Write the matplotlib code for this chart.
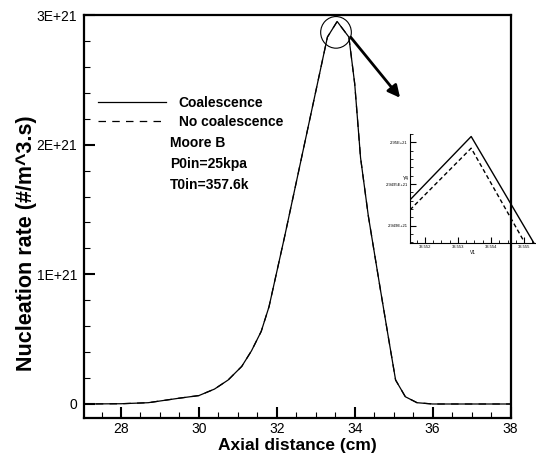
import matplotlib
matplotlib.use('Agg')
import matplotlib.pyplot as plt
from matplotlib.patches import Ellipse
from matplotlib.ticker import MultipleLocator, FuncFormatter

plt.rcParams['font.family'] = ['Liberation Sans', 'DejaVu Sans']

# main curves (x in cm, rate in units of 1E+21)
axial = [27.0, 28.0, 28.7, 29.5, 30.0, 30.4, 30.75, 31.1, 31.35, 31.6, 31.8,
         32.2, 32.6, 33.0, 33.3, 33.55, 33.85, 34.0, 34.15, 34.35, 34.65,
         34.85, 35.05, 35.3, 35.6, 36.0, 37.0, 38.0]
coal = [0.0, 0.002, 0.01, 0.045, 0.065, 0.115, 0.185, 0.29, 0.41, 0.56, 0.75,
        1.29, 1.85, 2.41, 2.83, 2.95, 2.83, 2.47, 1.9, 1.45, 0.9,
        0.54, 0.185, 0.056, 0.01, 0.0, 0.0, 0.0]
nocoal = [0.0, 0.002, 0.01, 0.045, 0.065, 0.115, 0.185, 0.29, 0.41, 0.56, 0.75,
          1.29, 1.85, 2.41, 2.83, 2.9499, 2.83, 2.47, 1.9, 1.45, 0.9,
          0.54, 0.185, 0.056, 0.01, 0.0, 0.0, 0.0]

# zoomed inset near the peak
v1_coal = [33.55155, 33.5534, 33.5553]
y4_coal = [2.94931e21, 2.95007e21, 2.94879e21]
v1_nocoal = [33.55155, 33.5534, 33.5550]
y4_nocoal = [2.94919e21, 2.94993e21, 2.94881e21]
inset_yticks = [2.949e21, 2.9495e21, 2.95e21]
inset_ylabels = ['2.949E+21', '2.9495E+21', '2.95E+21']

fig = plt.figure(figsize=(5.36, 4.59), dpi=100)
ax = fig.add_axes([84 / 536, 1 - 418 / 459, 426.5 / 536, 403 / 459])

ax.plot(axial, [v * 1e21 for v in coal], color='k', lw=0.9, label='Coalescence')
ax.plot(axial, [v * 1e21 for v in nocoal], color='k', lw=0.9, ls=(0, (6, 5)),
        label='No coalescence')

ax.set_xlim(27.05, 38.0)
ax.set_ylim(-0.108e21, 3.0e21)
ax.xaxis.set_major_locator(MultipleLocator(2))
ax.xaxis.set_minor_locator(MultipleLocator(0.5))
ax.yaxis.set_major_locator(MultipleLocator(1e21))
ax.yaxis.set_minor_locator(MultipleLocator(0.2e21))
ax.yaxis.set_major_formatter(FuncFormatter(
    lambda v, p: '0' if abs(v) < 1 else '%dE+21' % round(v / 1e21)))
ax.tick_params(which='both', direction='in', top=False, right=False, labelsize=10)
ax.tick_params(which='major', length=8, width=1.5, pad=5)
ax.tick_params(axis='x', which='major', pad=3)
ax.tick_params(which='minor', length=4.5, width=0.8)
for s in ax.spines.values():
    s.set_linewidth(1.6)

ax.set_xlabel('Axial distance (cm)', fontsize=12.5, fontweight='bold', labelpad=1.5)
ax.set_ylabel('Nucleation rate (#/m^3.s)', fontsize=15.5, fontweight='bold')
ax.yaxis.set_label_coords(-0.11, 0.434)

leg = ax.legend(loc='upper left', bbox_to_anchor=(0.02, 0.812), frameon=False,
                prop={'weight': 'bold', 'size': 10}, handlelength=4.9,
                handletextpad=0.9, labelspacing=0.35, borderaxespad=0)

fig.text(170 / 536, 1 - 136 / 459, 'Moore B\nP0in=25kpa\nT0in=357.6k',
         fontsize=10, fontweight='bold', va='top', linespacing=1.62)

# circle around the peak and arrow to the zoom
ax.add_patch(Ellipse((33.52, 2.866e21), 0.787, 0.244e21, fill=False, lw=0.8, color='k'))
ax.annotate('', xy=(35.21, 2.345e21), xytext=(33.85, 2.846e21),
            arrowprops=dict(arrowstyle='-|>', lw=2, color='k', mutation_scale=18))

# inset
ins = fig.add_axes([410 / 536, 1 - 243 / 459, 126 / 536, 109 / 459])
ins.set_facecolor('none')
ins.plot(v1_coal, y4_coal, color='k', lw=1.0)
ins.plot(v1_nocoal, y4_nocoal, color='k', lw=1.0, ls=(0, (3, 2)))
ins.set_xlim(33.55155, 33.55536)
ins.set_ylim(2.948793e21, 2.9501e21)
ins.spines['top'].set_visible(False)
ins.spines['right'].set_visible(False)
ins.xaxis.set_major_locator(MultipleLocator(0.001))
ins.xaxis.set_minor_locator(MultipleLocator(0.00025))
ins.xaxis.set_major_formatter(FuncFormatter(lambda v, p: '%.3f' % v))
ins.set_yticks(inset_yticks)
ins.set_yticklabels(inset_ylabels)
ins.yaxis.set_minor_locator(MultipleLocator(0.0001e21))
ins.tick_params(which='both', direction='in', labelsize=3, pad=1.5)
ins.tick_params(which='major', length=4, width=0.8)
ins.tick_params(which='minor', length=2, width=0.6)
ins.set_xlabel('V1', fontsize=3.5, labelpad=1)
ins.text(-0.01, 0.58, 'Y4', transform=ins.transAxes, fontsize=3.5, ha='right')
ins.yaxis.get_offset_text().set_visible(False)

fig.savefig('out.png', dpi=100)
